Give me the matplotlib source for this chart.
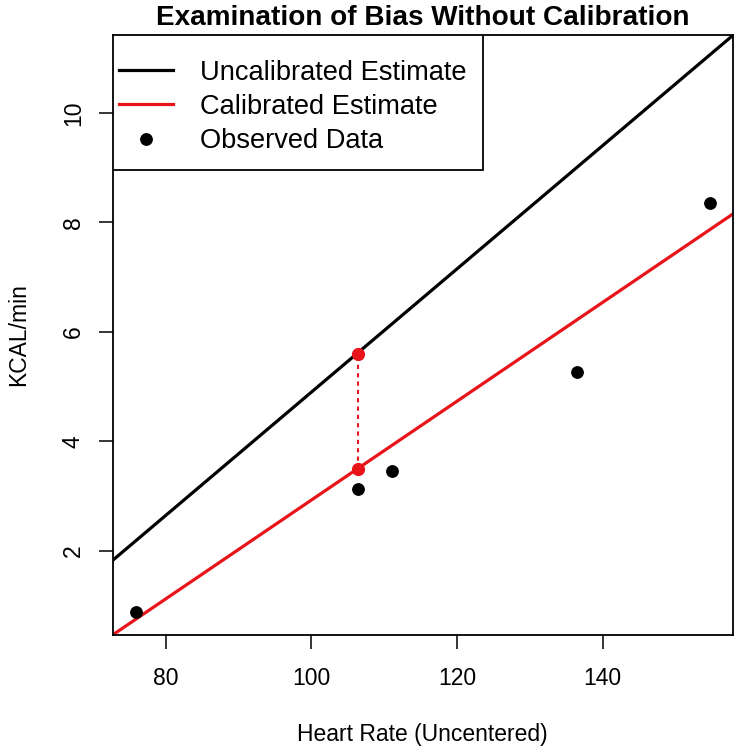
import matplotlib
matplotlib.use("Agg")
import matplotlib.pyplot as plt
from matplotlib.patches import Rectangle

# observed data (heart rate vs kcal/min)
hr = [75.9, 106.45, 111.1, 136.45, 154.75]
kcal = [0.88, 3.13, 3.46, 5.27, 8.36]

# fitted lines: intercept, slope
uncal = (-6.35, 0.1125)
cal = (-6.09, 0.0902)

# highlighted point
hr_pt = 106.45
pt_uncal = 5.59
pt_cal = 3.49

plt.rcParams['font.family'] = ['Liberation Sans', 'DejaVu Sans']

fig = plt.figure(figsize=(7.41, 7.54), dpi=100)
ax = fig.add_axes([0.1521, 0.1578, 0.8367, 0.7958])

ax.axline((0, uncal[0]), slope=uncal[1], color='black', lw=2.3,
          label='Uncalibrated Estimate')
ax.axline((0, cal[0]), slope=cal[1], color='#e8141a', lw=2.3,
          label='Calibrated Estimate')
ax.plot(hr, kcal, 'o', color='black', ms=8.2, ls='none', label='Observed Data')
ax.plot([hr_pt, hr_pt], [pt_cal, pt_uncal], color='#e8141a', lw=1.5,
        ls=(0, (2, 2)))
ax.plot([hr_pt, hr_pt], [pt_cal, pt_uncal], 'o', color='#e8141a', ms=8.5)

ax.set_xlim(72.71, 157.87)
ax.set_ylim(0.466, 11.42)
ax.set_xticks([80, 100, 120, 140])
ax.set_yticks([2, 4, 6, 8, 10])
ax.tick_params(length=10, width=1.1, labelsize=16.5)
ax.tick_params(axis='x', pad=13)
ax.tick_params(axis='y', pad=10)
for lab in ax.get_yticklabels():
    lab.set_rotation(90)
    lab.set_va('center')
for s in ax.spines.values():
    s.set_linewidth(1.3)

ax.set_xlabel('Heart Rate (Uncentered)', fontsize=16.5, labelpad=24)
ax.set_ylabel('KCAL/min', fontsize=16.5, labelpad=23)
ax.set_title('Examination of Bias Without Calibration', fontsize=20.1,
             fontweight='bold', pad=7)

# legend box like R's legend()
box = Rectangle((0, 0.775), 0.597, 0.225, transform=ax.transAxes,
                facecolor='white', edgecolor='black', lw=1.3, zorder=4)
ax.add_patch(box)
leg = ax.legend(loc='upper left', bbox_to_anchor=(0, 0.969),
                borderaxespad=0, frameon=False, fontsize=19.6,
                handlelength=2.0, handletextpad=1.0, borderpad=0.22,
                labelspacing=0.31)
leg.set_zorder(5)

plt.savefig('out.png')
